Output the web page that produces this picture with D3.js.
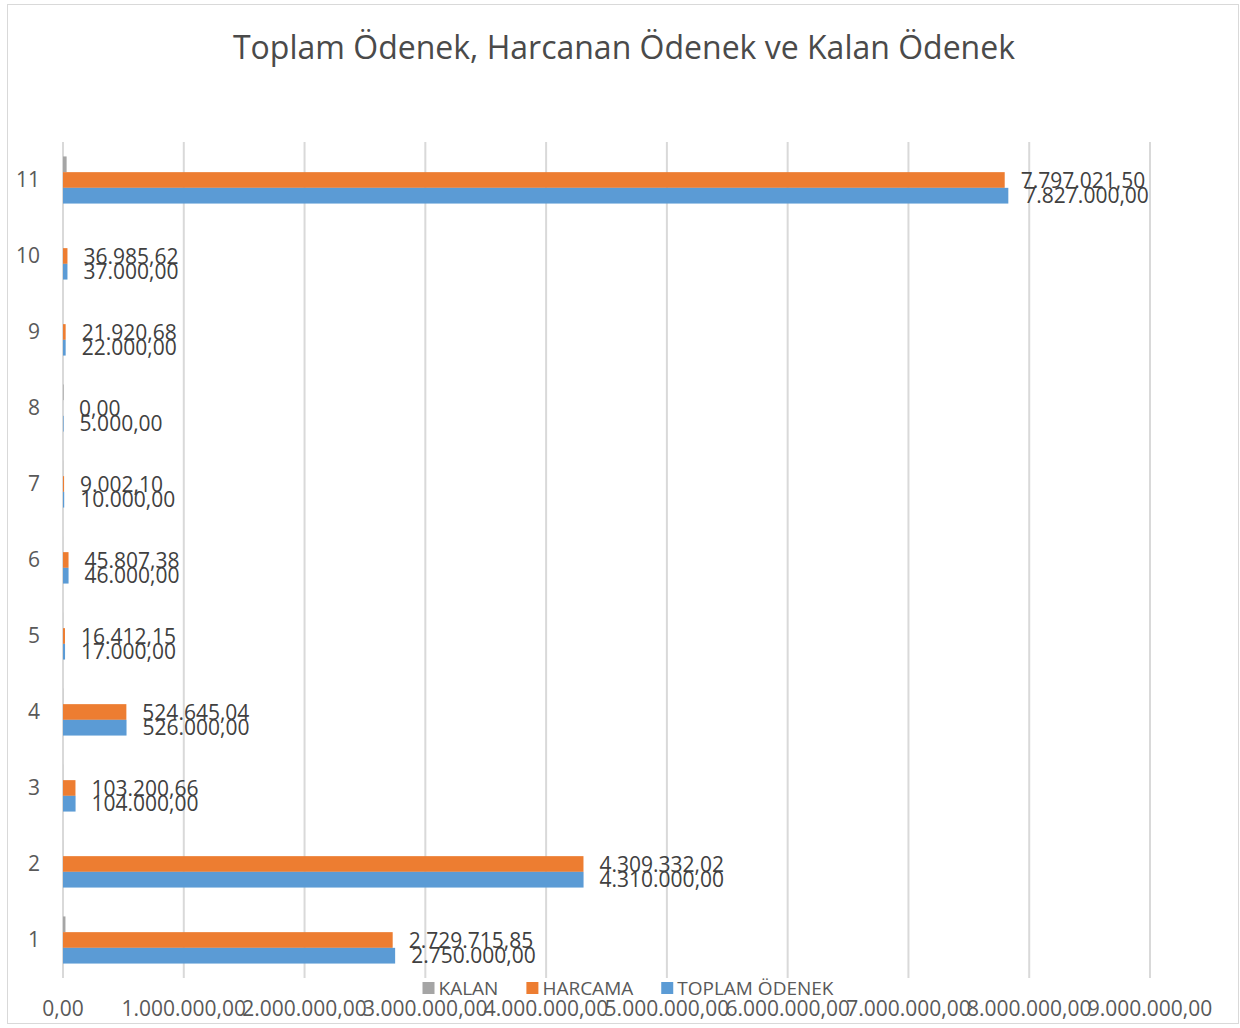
<!DOCTYPE html>
<html>
<head>
<meta charset="utf-8">
<script src="https://cdn.jsdelivr.net/npm/d3@7/dist/d3.min.js"></script>
<style>
  body { margin: 0; background: #fff; }
  svg { font-family: "Open Sans", "DejaVu Sans", sans-serif; }
</style>
</head>
<body>
<script>
// ── Data ───────────────────────────────────────────────────────────────────
const categories = ['1', '2', '3', '4', '5', '6', '7', '8', '9', '10', '11'];
const toplam   = [2750000, 4310000, 104000, 526000, 17000, 46000, 10000, 5000, 22000, 37000, 7827000];
const harcama  = [2729715.85, 4309332.02, 103200.66, 524645.04, 16412.15, 45807.38, 9002.10, 0, 21920.68, 36985.62, 7797021.50];
const kalan    = [20284.15, 667.98, 799.34, 1354.96, 587.85, 192.62, 997.90, 5000, 79.32, 14.38, 29978.50];
const xTicks   = [0, 1e6, 2e6, 3e6, 4e6, 5e6, 6e6, 7e6, 8e6, 9e6];

const SERIES = [
  { key: 'KALAN',         values: kalan,   color: '#A5A5A5', label: false },
  { key: 'HARCAMA',       values: harcama, color: '#ED7D31', label: true },
  { key: 'TOPLAM ÖDENEK', values: toplam,  color: '#5B9BD5', label: true },
];

const W = 1240, H = 1028;
const TEXT = '#595959';
const trFmt = d3.formatLocale({ decimal: ',', thousands: '.', grouping: [3], currency: ['', ''] }).format(',.2f');

const svg = d3.select('body').append('svg').attr('width', W).attr('height', H);

// chart border
svg.append('rect')
  .attr('x', 7.5).attr('y', 4.5).attr('width', 1231).attr('height', 1019)
  .attr('fill', '#fff').attr('stroke', '#D9D9D9');

// title
svg.append('text')
  .attr('x', 624).attr('y', 59)
  .attr('text-anchor', 'middle')
  .attr('font-size', '32px')
  .attr('fill', '#4a4a4a')
  .text('Toplam Ödenek, Harcanan Ödenek ve Kalan Ödenek');

// ── Scales ──
const x = d3.scaleLinear().domain([0, 9e6]).range([63, 1150]);
const y = d3.scaleBand()
  .domain(categories.slice().reverse())
  .range([142, 978])
  .paddingInner(0.38)
  .paddingOuter(0.19);
const ys = d3.scaleBand().domain(SERIES.map(s => s.key)).range([0, y.bandwidth()]);

// gridlines
svg.append('g')
  .selectAll('line')
  .data(xTicks)
  .join('line')
  .attr('x1', d => x(d)).attr('x2', d => x(d))
  .attr('y1', 142).attr('y2', 978)
  .attr('stroke', '#D9D9D9')
  .attr('stroke-width', 2);

// x tick labels
svg.append('g')
  .selectAll('text')
  .data(xTicks)
  .join('text')
  .attr('x', d => x(d))
  .attr('y', 1016)
  .attr('text-anchor', 'middle')
  .attr('font-size', '21px')
  .attr('fill', TEXT)
  .text(d => trFmt(d));

// category labels
svg.append('g')
  .selectAll('text')
  .data(categories)
  .join('text')
  .attr('x', 40)
  .attr('y', d => y(d) + y.bandwidth() / 2)
  .attr('dy', '0.35em')
  .attr('text-anchor', 'end')
  .attr('font-size', '21px')
  .attr('fill', TEXT)
  .text(d => d);

// ── Bars ──
const group = svg.append('g')
  .selectAll('g')
  .data(categories.map((c, i) => ({ c, i })))
  .join('g')
  .attr('transform', d => `translate(0,${y(d.c)})`);

group.selectAll('rect')
  .data(d => SERIES.map(s => ({ s, v: s.values[d.i] })))
  .join('rect')
  .attr('x', x(0))
  .attr('y', d => ys(d.s.key))
  .attr('width', d => x(d.v) - x(0))
  .attr('height', ys.bandwidth())
  .attr('fill', d => d.s.color);

group.selectAll('text')
  .data(d => SERIES.filter(s => s.label).map(s => ({ s, v: s.values[d.i] })))
  .join('text')
  .attr('x', d => x(d.v) + 16)
  .attr('y', d => ys(d.s.key) + ys.bandwidth() / 2)
  .attr('dy', '0.36em')
  .attr('font-size', '21px')
  .attr('fill', '#404040')
  .text(d => trFmt(d.v));

// ── Legend ──
const legend = svg.append('g');
const items = legend.selectAll('g')
  .data(SERIES)
  .join('g');
items.append('rect')
  .attr('width', 12).attr('height', 12)
  .attr('y', -6)
  .attr('fill', d => d.color);
items.append('text')
  .attr('x', 16)
  .attr('dy', '0.36em')
  .attr('font-size', '19px')
  .attr('fill', TEXT)
  .text(d => d.key);

let off = 0;
const widths = [];
items.each(function() {
  const w = 16 + d3.select(this).select('text').node().getComputedTextLength();
  widths.push(w);
});
items.attr('transform', (d, i) => {
  const t = `translate(${off},0)`;
  off += widths[i] + 28;
  return t;
});
const total = off - 28;
legend.attr('transform', `translate(${628 - total / 2},988)`);
</script>
</body>
</html>
